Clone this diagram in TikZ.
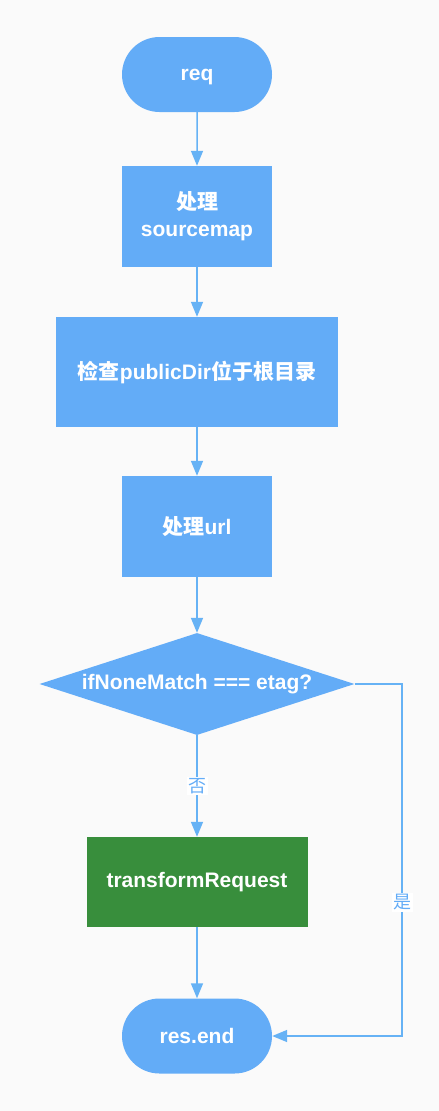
\documentclass[tikz,border=0pt]{standalone}
\usepackage{fontspec}
\setmainfont{Liberation Sans}
\newfontfamily\cjk{Noto Sans CJK SC}
\usetikzlibrary{shapes.geometric,shapes.misc,arrows.meta}
\definecolor{flowblue}{HTML}{63ACF7}
\definecolor{flowline}{HTML}{66B2F5}
\definecolor{flowgreen}{HTML}{388E3C}
\definecolor{paper}{HTML}{FAFAFA}
\tikzset{
  boxtext/.style={text=white, font=\bfseries\fontsize{21}{27}\selectfont, align=center, inner sep=0pt},
  term/.style={boxtext, rounded rectangle, fill=flowblue, minimum width=150, minimum height=75},
  proc/.style={boxtext, rectangle, fill=flowblue, minimum height=101},
  decide/.style={boxtext, diamond, fill=flowblue, aspect=3.09, minimum width=315, minimum height=102},
  donebox/.style={boxtext, rectangle, fill=flowgreen, minimum width=221, minimum height=90},
  flow/.style={draw=flowline, line width=1.5pt, -{Triangle[length=15pt,width=12pt]}},
  edgelabel/.style={fill=white, text=flowblue, font=\cjk\fontsize{18}{18}\selectfont, inner sep=1.5pt}
}
\begin{document}
\begin{tikzpicture}[x=1pt,y=-1pt]
  \fill[paper] (0,0) rectangle (439,1111);
  \useasboundingbox (0,0) rectangle (439,1111);
  % nodes
  \node[term, text depth=0pt] (req) at (197,74.5) {req};
  \node[proc, minimum width=150] (src) at (197,216.5) {{\cjk\bfseries 处理}\\sourcemap};
  \node[proc, minimum width=282, minimum height=110] (root) at (197,372) {{\cjk\bfseries 检查}public\-Dir{\cjk\bfseries 位于根目录}};
  \node[proc, minimum width=150] (url) at (197,526.5) {{\cjk\bfseries 处理}url};
  \node[decide] (match) at (197,684) {ifNoneMatch === etag?};
  \node[donebox] (trans) at (197,882) {transformRequest};
  \node[term] (done) at (197,1036) {res.end};
  \coordinate (turn) at (402,684);
  % edges
  \draw[flow] (req) -- (src);
  \draw[flow] (src) -- (root);
  \draw[flow] (root) -- (url);
  \draw[flow] (url) -- (match);
  \draw[flow] (match) -- node[edgelabel]{否} (trans);
  \draw[flow] (trans) -- (done);
  \draw[flow] (match.east) -- (turn) |- node[edgelabel, pos=.31]{是} (done.east);
\end{tikzpicture}
\end{document}
